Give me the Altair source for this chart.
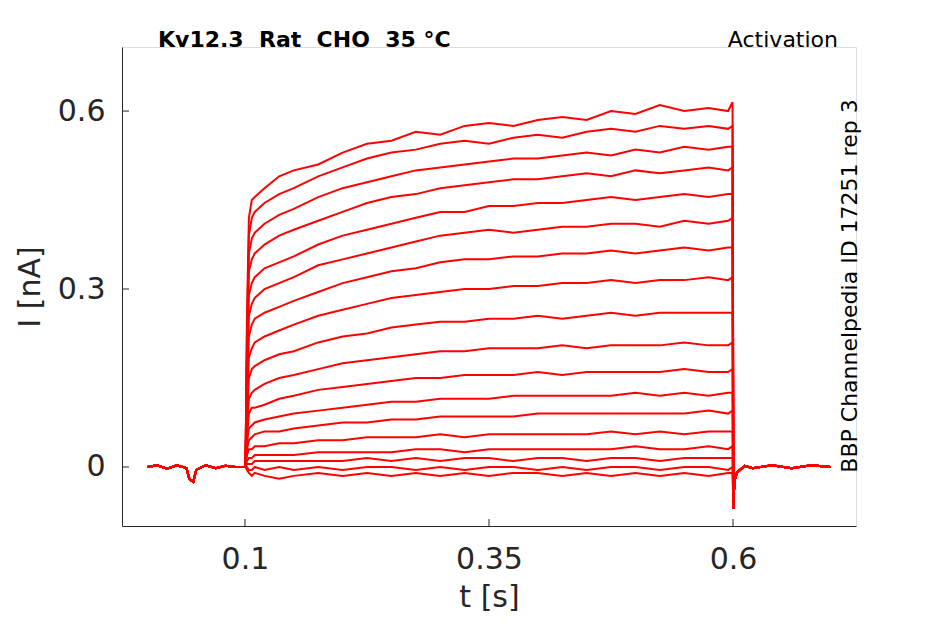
import altair as alt
import pandas as pd

# ---- data ----
PRE_T = [0.0, 0.01, 0.02, 0.03, 0.04, 0.043, 0.047, 0.05, 0.06, 0.07, 0.08, 0.09, 0.0995]
PRE_V = [0.0, 0.003, -0.003, 0.003, -0.002, -0.02, -0.025, -0.005, 0.003, -0.002, 0.002, 0.0, 0.0]

PULSE_T = [0.1005, 0.102, 0.104, 0.107, 0.11, 0.12, 0.135, 0.15, 0.175, 0.2, 0.225, 0.25,
           0.275, 0.3, 0.325, 0.35, 0.375, 0.4, 0.425, 0.45, 0.475, 0.5, 0.525, 0.55,
           0.575, 0.595, 0.5995]

TRACES = [
    [0.00, 0.25, 0.42, 0.45, 0.455, 0.47, 0.49, 0.50, 0.51, 0.53, 0.545, 0.55, 0.565, 0.56, 0.575, 0.58, 0.575, 0.585, 0.59, 0.585, 0.60, 0.595, 0.61, 0.60, 0.605, 0.60, 0.615],
    [0.00, 0.22, 0.39, 0.42, 0.43, 0.445, 0.46, 0.47, 0.49, 0.505, 0.52, 0.53, 0.535, 0.545, 0.55, 0.545, 0.555, 0.56, 0.555, 0.565, 0.57, 0.565, 0.575, 0.57, 0.575, 0.57, 0.575],
    [0.00, 0.20, 0.36, 0.385, 0.395, 0.41, 0.425, 0.435, 0.455, 0.47, 0.48, 0.49, 0.50, 0.505, 0.51, 0.515, 0.52, 0.52, 0.525, 0.53, 0.525, 0.535, 0.53, 0.54, 0.535, 0.54, 0.54],
    [0.00, 0.18, 0.33, 0.35, 0.36, 0.375, 0.39, 0.40, 0.415, 0.43, 0.445, 0.455, 0.46, 0.47, 0.475, 0.48, 0.485, 0.485, 0.49, 0.495, 0.49, 0.50, 0.495, 0.50, 0.505, 0.50, 0.505],
    [0.00, 0.16, 0.29, 0.31, 0.32, 0.335, 0.345, 0.355, 0.375, 0.39, 0.40, 0.41, 0.42, 0.43, 0.43, 0.44, 0.44, 0.445, 0.445, 0.45, 0.455, 0.45, 0.455, 0.46, 0.455, 0.46, 0.46],
    [0.00, 0.14, 0.255, 0.275, 0.285, 0.30, 0.31, 0.32, 0.34, 0.35, 0.36, 0.37, 0.38, 0.39, 0.395, 0.40, 0.395, 0.40, 0.405, 0.405, 0.41, 0.41, 0.405, 0.415, 0.41, 0.415, 0.42],
    [0.00, 0.12, 0.22, 0.24, 0.25, 0.26, 0.27, 0.28, 0.295, 0.31, 0.32, 0.33, 0.335, 0.345, 0.35, 0.35, 0.355, 0.355, 0.36, 0.36, 0.365, 0.36, 0.365, 0.37, 0.365, 0.37, 0.37],
    [0.00, 0.10, 0.185, 0.20, 0.21, 0.22, 0.23, 0.24, 0.255, 0.265, 0.275, 0.285, 0.29, 0.295, 0.30, 0.30, 0.305, 0.305, 0.31, 0.31, 0.315, 0.31, 0.315, 0.315, 0.32, 0.315, 0.32],
    [0.00, 0.08, 0.15, 0.165, 0.17, 0.18, 0.19, 0.195, 0.21, 0.22, 0.225, 0.235, 0.24, 0.245, 0.245, 0.25, 0.25, 0.255, 0.25, 0.255, 0.26, 0.255, 0.26, 0.26, 0.26, 0.26, 0.26],
    [0.00, 0.06, 0.115, 0.125, 0.13, 0.14, 0.15, 0.155, 0.165, 0.175, 0.18, 0.185, 0.19, 0.195, 0.195, 0.20, 0.20, 0.20, 0.205, 0.20, 0.205, 0.205, 0.205, 0.21, 0.205, 0.205, 0.21],
    [0.00, 0.05, 0.09, 0.10, 0.10, 0.105, 0.115, 0.12, 0.13, 0.135, 0.14, 0.145, 0.15, 0.15, 0.155, 0.155, 0.155, 0.16, 0.155, 0.16, 0.16, 0.16, 0.16, 0.165, 0.16, 0.16, 0.165],
    [0.00, 0.04, 0.065, 0.07, 0.075, 0.08, 0.085, 0.09, 0.095, 0.10, 0.105, 0.11, 0.11, 0.115, 0.115, 0.115, 0.12, 0.12, 0.12, 0.12, 0.12, 0.125, 0.12, 0.125, 0.12, 0.125, 0.125],
    [0.00, 0.03, 0.045, 0.05, 0.055, 0.06, 0.06, 0.065, 0.07, 0.075, 0.075, 0.08, 0.08, 0.085, 0.085, 0.085, 0.085, 0.09, 0.09, 0.09, 0.09, 0.09, 0.09, 0.09, 0.095, 0.09, 0.095],
    [0.00, 0.02, 0.03, 0.03, 0.035, 0.035, 0.04, 0.04, 0.045, 0.045, 0.05, 0.05, 0.05, 0.055, 0.05, 0.055, 0.055, 0.055, 0.055, 0.055, 0.06, 0.055, 0.06, 0.055, 0.06, 0.06, 0.06],
    [0.00, 0.01, 0.015, 0.015, 0.02, 0.02, 0.02, 0.02, 0.025, 0.025, 0.025, 0.025, 0.03, 0.03, 0.025, 0.03, 0.03, 0.03, 0.03, 0.03, 0.03, 0.035, 0.03, 0.03, 0.035, 0.03, 0.035],
    [0.00, 0.005, 0.005, 0.005, 0.01, 0.01, 0.01, 0.01, 0.01, 0.01, 0.015, 0.01, 0.015, 0.01, 0.015, 0.015, 0.01, 0.015, 0.015, 0.01, 0.015, 0.015, 0.01, 0.015, 0.015, 0.015, 0.015],
    [0.00, 0.00, -0.005, -0.005, 0.0, -0.005, 0.0, -0.005, 0.0, -0.005, 0.0, 0.0, -0.005, 0.0, -0.005, 0.0, 0.0, -0.005, 0.0, -0.005, 0.0, 0.0, -0.005, 0.0, 0.0, -0.005, 0.0],
    [0.00, -0.005, -0.01, -0.015, -0.01, -0.015, -0.02, -0.015, -0.01, -0.015, -0.01, -0.015, -0.01, -0.015, -0.01, -0.015, -0.01, -0.01, -0.015, -0.01, -0.015, -0.01, -0.015, -0.01, -0.015, -0.01, -0.01],
]

POST_T = [0.6005, 0.601, 0.602, 0.604, 0.607, 0.612, 0.62, 0.64, 0.66, 0.68, 0.7]
POST_V = [-0.07, -0.04, -0.02, -0.01, -0.005, 0.002, -0.002, 0.003, -0.002, 0.003, 0.0]

X_TICKS = [0.1, 0.35, 0.6]
Y_TICKS = [0, 0.3, 0.6]

NB = "\u00a0"
TITLE_LEFT = f"Kv12.3 {NB}Rat {NB}CHO {NB}35 °C"
TITLE_RIGHT = "Activation"
SIDE_LABEL = "BBP Channelpedia ID 17251 rep 3"

# ---- build table ----
rows = []
for i, tr in enumerate(TRACES):
    for t, v in zip(PRE_T, PRE_V):
        rows.append({"trace": i, "t": t, "I": v})
    for t, v in zip(PULSE_T, tr):
        rows.append({"trace": i, "t": t, "I": v})
    for t, v in zip(POST_T, POST_V):
        rows.append({"trace": i, "t": t, "I": v})
df = pd.DataFrame(rows)

W, H = 734, 479
FONT = "DejaVu Sans"
AX = "#262626"

xscale = alt.Scale(domain=[-0.026, 0.726], nice=False, zero=False)
yscale = alt.Scale(domain=[-0.0995, 0.708], nice=False, zero=False)

lines = alt.Chart(df).mark_line(color="#ff0000", strokeWidth=2.0, clip=True).encode(
    x=alt.X("t:Q", scale=xscale,
            axis=alt.Axis(title="t [s]", values=X_TICKS, format="~g", ticks=False, tickSize=0,
                          grid=False, labelFontSize=30, titleFontSize=30, labelPadding=18,
                          titlePadding=8, labelColor=AX, titleColor=AX, domainColor=AX,
                          labelFont=FONT, titleFont=FONT, titleFontWeight="normal")),
    y=alt.Y("I:Q", scale=yscale,
            axis=alt.Axis(title="I [nA]", values=Y_TICKS, format="~g", ticks=False, tickSize=0,
                          grid=False, labelFontSize=30, titleFontSize=30, labelPadding=17,
                          titlePadding=12, labelColor=AX, titleColor=AX, domainColor=AX,
                          labelFont=FONT, titleFont=FONT, titleFontWeight="normal")),
    detail="trace:N",
)

xt = alt.Chart(pd.DataFrame({"v": X_TICKS})).mark_rule(color=AX, strokeWidth=1).encode(
    x=alt.X("v:Q", scale=xscale), y=alt.value(H), y2=alt.value(H - 7))
yt = alt.Chart(pd.DataFrame({"v": Y_TICKS})).mark_rule(color=AX, strokeWidth=1).encode(
    y=alt.Y("v:Q", scale=yscale), x=alt.value(0), x2=alt.value(7))

t_left = alt.Chart(pd.DataFrame({"s": [TITLE_LEFT]})).mark_text(
    font=FONT, fontSize=22, fontWeight="bold", color="#000000", align="left", baseline="alphabetic"
).encode(text="s:N", x=alt.value(36), y=alt.value(0))
t_right = alt.Chart(pd.DataFrame({"s": [TITLE_RIGHT]})).mark_text(
    font=FONT, fontSize=22, color="#000000", align="right", baseline="alphabetic"
).encode(text="s:N", x=alt.value(716), y=alt.value(0))
t_side = alt.Chart(pd.DataFrame({"s": [SIDE_LABEL]})).mark_text(
    font=FONT, fontSize=22, color="#000000", align="center", baseline="alphabetic", angle=270
).encode(text="s:N", x=alt.value(735), y=alt.value(239))

chart = alt.layer(lines, xt, yt, t_left, t_right, t_side).properties(
    width=W, height=H,
    autosize=alt.AutoSizeParams(type="none"),
    padding={"left": 114, "top": 39, "right": 80, "bottom": 90},
).configure_view(stroke=None).configure(background="white")

chart.save("out.html", embed_options={"renderer": "svg", "actions": False})
